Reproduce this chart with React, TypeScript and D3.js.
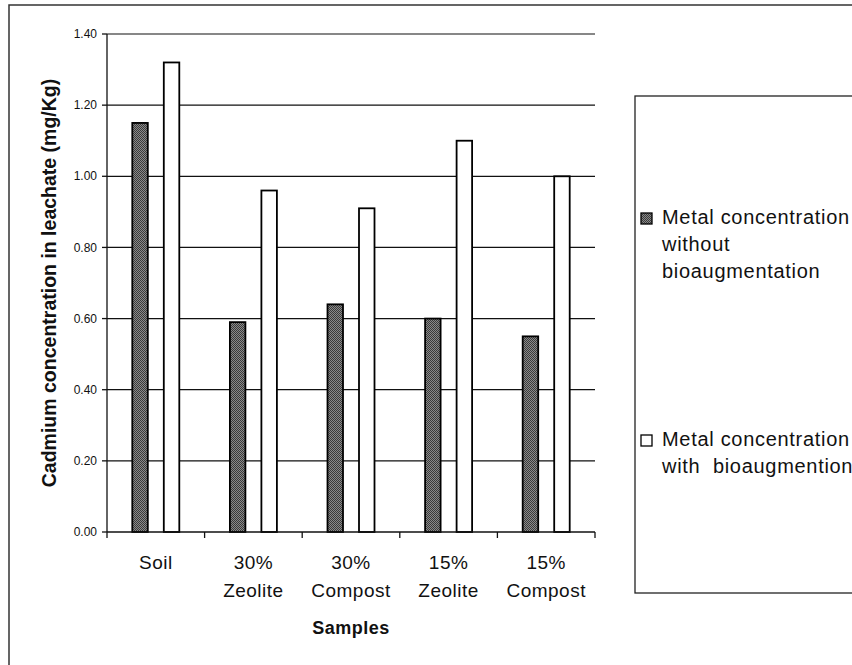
import React from "react";
import * as d3 from "d3";

// Sample groups shown along the x axis (multi-line labels)
const categories: string[][] = [
  ["Soil"],
  ["30%", "Zeolite"],
  ["30%", "Compost"],
  ["15%", "Zeolite"],
  ["15%", "Compost"],
];

// Cadmium in leachate (mg/Kg)
const withoutBioaugmentation = [1.15, 0.59, 0.64, 0.6, 0.55];
const withBioaugmentation = [1.32, 0.96, 0.91, 1.1, 1.0];

const yTicks = [0, 0.2, 0.4, 0.6, 0.8, 1.0, 1.2, 1.4];

const legendItems: { key: string; lines: string[] }[] = [
  { key: "without", lines: ["Metal concentration", "without", "bioaugmentation"] },
  { key: "with", lines: ["Metal concentration", "with  bioaugmention"] },
];

const W = 852;
const H = 665;
const FONT = "'Liberation Sans', Arial, Helvetica, sans-serif";

export default function App() {
  const plot = { left: 107, right: 595, top: 34, bottom: 532 };

  const x = d3
    .scaleBand<number>()
    .domain(categories.map((_, i) => i))
    .range([plot.left, plot.right])
    .paddingInner(0)
    .paddingOuter(0);

  const sub = d3
    .scaleBand<string>()
    .domain(["without", "with"])
    .range([0, x.bandwidth()])
    .paddingInner(0.508)
    .paddingOuter(0.803);

  const y = d3.scaleLinear().domain([0, 1.4]).range([plot.bottom, plot.top]);

  const fmt = d3.format(".2f");

  const fills: Record<string, string> = {
    without: "url(#stipple)",
    with: "#ffffff",
  };

  const boundaries = d3.range(categories.length + 1).map((i) =>
    i < categories.length ? (x(i) as number) : plot.right
  );

  const legend = {
    left: 635,
    top: 96,
    bottom: 593,
    squareX: 641,
    textX: 662,
    lineH: 27,
    firstBaselines: [224, 446],
  };

  return (
    <svg
      width={W}
      height={H}
      viewBox={`0 0 ${W} ${H}`}
      style={{ position: "absolute", left: 0, top: 0, background: "#ffffff" }}
      fontFamily={FONT}
    >
      <defs>
        <pattern id="stipple" width="2" height="2" patternUnits="userSpaceOnUse">
          <rect width="2" height="2" fill="#8a8a8a" />
          <rect x="0" y="0" width="1" height="1" fill="#3a3a3a" />
          <rect x="1" y="1" width="1" height="1" fill="#3a3a3a" />
        </pattern>
      </defs>

      {/* chart frame */}
      <rect x={9} y={5} width={W + 20} height={H + 20} fill="none" stroke="#333" strokeWidth={1.5} />

      {/* horizontal gridlines */}
      {yTicks
        .filter((t) => t > 0)
        .map((t) => (
          <line
            key={`g${t}`}
            x1={plot.left}
            x2={plot.right}
            y1={y(t)}
            y2={y(t)}
            stroke="#111"
            strokeWidth={1.2}
          />
        ))}

      {/* bars */}
      {categories.map((_, i) =>
        (
          [
            ["without", withoutBioaugmentation[i]],
            ["with", withBioaugmentation[i]],
          ] as [string, number][]
        ).map(([key, v]) => (
          <rect
            key={`${key}${i}`}
            x={(x(i) as number) + (sub(key) as number)}
            y={y(v)}
            width={sub.bandwidth()}
            height={y(0) - y(v)}
            fill={fills[key]}
            stroke="#000"
            strokeWidth={1.8}
          />
        ))
      )}

      {/* y axis */}
      <line x1={plot.left} x2={plot.left} y1={plot.top} y2={plot.bottom} stroke="#111" strokeWidth={1.3} />
      {yTicks.map((t) => (
        <g key={`yt${t}`}>
          <line x1={plot.left - 5} x2={plot.left} y1={y(t)} y2={y(t)} stroke="#111" strokeWidth={1.3} />
          <text
            x={plot.left - 10}
            y={y(t)}
            dy="0.35em"
            textAnchor="end"
            fontSize={12}
            fill="#111"
          >
            {fmt(t)}
          </text>
        </g>
      ))}

      {/* x axis */}
      <line x1={plot.left} x2={plot.right} y1={plot.bottom} y2={plot.bottom} stroke="#111" strokeWidth={1.3} />
      {boundaries.map((bx, i) => (
        <line key={`xt${i}`} x1={bx} x2={bx} y1={plot.bottom} y2={plot.bottom + 6} stroke="#111" strokeWidth={1.3} />
      ))}
      {categories.map((lines, i) => (
        <text
          key={`xl${i}`}
          x={(x(i) as number) + x.bandwidth() / 2}
          y={569}
          textAnchor="middle"
          fontSize={19}
          letterSpacing={0.5}
          fill="#111"
        >
          {lines.map((ln, j) => (
            <tspan key={j} x={(x(i) as number) + x.bandwidth() / 2} y={569 + j * 28}>
              {ln}
            </tspan>
          ))}
        </text>
      ))}

      {/* axis titles */}
      <text
        x={(plot.left + plot.right) / 2}
        y={634}
        textAnchor="middle"
        fontSize={18}
        fontWeight="bold"
        letterSpacing={0.5}
        fill="#111"
      >
        Samples
      </text>
      <text
        transform={`translate(56, ${(plot.top + plot.bottom) / 2}) rotate(-90)`}
        textAnchor="middle"
        fontSize={19.5}
        fontWeight="bold"
        fill="#111"
      >
        Cadmium concentration in leachate (mg/Kg)
      </text>

      {/* legend */}
      <rect
        x={legend.left}
        y={legend.top}
        width={W}
        height={legend.bottom - legend.top}
        fill="none"
        stroke="#222"
        strokeWidth={1.3}
      />
      {legendItems.map((item, k) => {
        const base = legend.firstBaselines[k];
        return (
          <g key={item.key}>
            <rect
              x={legend.squareX}
              y={base - 11}
              width={11}
              height={11}
              fill={fills[item.key]}
              stroke="#000"
              strokeWidth={1.3}
            />
            <text fontSize={20} letterSpacing={0.7} fill="#111" style={{ whiteSpace: "pre" }}>
              {item.lines.map((ln, j) => (
                <tspan key={j} x={legend.textX} y={base + j * legend.lineH}>
                  {ln}
                </tspan>
              ))}
            </text>
          </g>
        );
      })}
    </svg>
  );
}
